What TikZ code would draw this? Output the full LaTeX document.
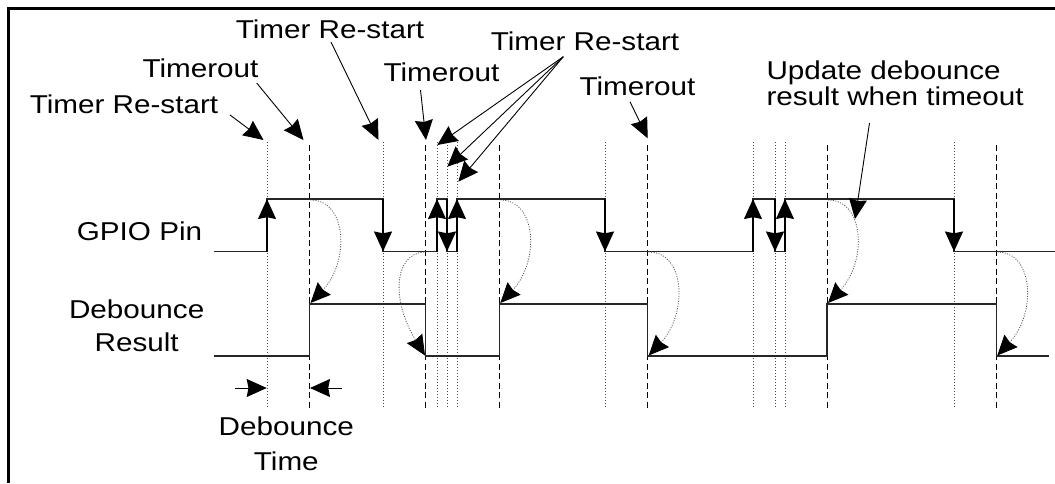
\documentclass[tikz,border=0pt]{standalone}
\usepackage{graphicx}
\usepackage{fontspec}
\setmainfont{Liberation Sans}
\usetikzlibrary{arrows.meta}
\newcommand\lbl[3]{\scalebox{1.15}[1]{\fontsize{25.8}{#1}\selectfont\begin{tabular}[t]{@{}#2@{}}#3\end{tabular}}}
\begin{document}
\begin{tikzpicture}[x=1pt,y=-1pt,
  wave/.style={line width=1.3pt, draw=black!85, line join=miter},
  guidedot/.style={line width=0.8pt, draw=black!70, dash pattern=on 0.8pt off 2.2pt},
  guidedash/.style={line width=0.9pt, draw=black, dash pattern=on 6pt off 3.5pt},
  head/.style={-{Stealth[length=20pt,width=18pt,inset=1.8pt,color=black]}},
  pointer/.style={head, line width=0.9pt},
  edgearr/.style={head, line width=1.3pt},
  curvearr/.style={head, line width=0.8pt, draw=black!70, dash pattern=on 1pt off 1.5pt},
  lab/.style={inner sep=0pt, outer sep=0pt}]
\useasboundingbox (0,0) rectangle (1055,483);
% frame
\draw[line width=2.7pt] (8.7,483) -- (8.7,8.7) -- (1055,8.7);

% guide lines: timer re-start (dotted) and timeout (dashed)
\foreach \x in {267,383,437,447,457,605,753,775,785,954}
  \draw[guidedot] (\x,142) -- (\x,408);
\foreach \x in {309.5,425.7,499.3,647.7,827,996.3}
  \draw[guidedash] (\x,145) -- (\x,409);

% GPIO waveform
\draw[wave] (214,251.5) -- (267,251.5) -- (267,199) -- (383,199) -- (383,251.5)
  -- (437,251.5) -- (437,199) -- (447,199) -- (447,251.5) -- (457,251.5) -- (457,199)
  -- (605,199) -- (605,251.5) -- (753,251.5) -- (753,199) -- (775,199) -- (775,251.5)
  -- (785,251.5) -- (785,199) -- (954,199) -- (954,251.5) -- (1055,251.5);
% edge arrows
\foreach \x in {267,437,457,753,785}
  \draw[edgearr] (\x,251.5) -- (\x,199);
\foreach \x in {383,447,605,775,954}
  \draw[edgearr] (\x,199) -- (\x,251.5);

% Debounce result waveform
\draw[wave] (214,356) -- (309.5,356) -- (309.5,304) -- (425.7,304) -- (425.7,356)
  -- (499.3,356) -- (499.3,304) -- (647.7,304) -- (647.7,356) -- (827,356)
  -- (827,304) -- (996.3,304) -- (996.3,356) -- (1049,356);

% update arrows (dotted curves)
\foreach \x in {309.5,499.3,827}
  \draw[curvearr] (\x+1,200) .. controls (\x+38,200) and (\x+40,262) .. (\x+1,303);
\foreach \x in {647.7,996.3}
  \draw[curvearr] (\x+1,252) .. controls (\x+38,252) and (\x+40,314) .. (\x+1,355.5);
\draw[curvearr] (424,252) .. controls (394,254) and (391,300) .. (425,355.5);

% labels
\node[lab, anchor=base] (trs1) at (124,113) {\lbl{30}{c}{Timer Re-start}};
\node[lab, anchor=base] (to1) at (200.5,77) {\lbl{30}{c}{Timerout}};
\node[lab, anchor=base] (trs2) at (330,38) {\lbl{30}{c}{Timer Re-start}};
\node[lab, anchor=base] (to2) at (441.5,81) {\lbl{30}{c}{Timerout}};
\node[lab, anchor=base] (trs3) at (585,50) {\lbl{30}{c}{Timer Re-start}};
\node[lab, anchor=base] (to3) at (637.5,95) {\lbl{30}{c}{Timerout}};
\node[lab, anchor=base west] (upd) at (766.5,79.5) {\lbl{25.7}{l}{Update debounce\\result when timeout}};
\node[lab, anchor=base] (gpio) at (139.5,240) {\lbl{30}{c}{GPIO Pin}};
\node[lab, anchor=base] (dres) at (136.7,318) {\lbl{33.5}{c}{Debounce\\Result}};
\node[lab, anchor=base] (dtime) at (286.3,435) {\lbl{35}{c}{Debounce\\Time}};

% pointer coordinates
\coordinate (p1s) at (230,115);   \coordinate (p1e) at (263.5,140);
\coordinate (p2s) at (256.7,83);  \coordinate (p2e) at (303.5,140);
\coordinate (p3s) at (331,42);    \coordinate (p3e) at (378.5,140);
\coordinate (p4s) at (420.5,90);  \coordinate (p4e) at (426,140);
\coordinate (p5s) at (563.3,56.7);
\coordinate (p5a) at (437.3,145); \coordinate (p5b) at (447.3,166.7); \coordinate (p5c) at (458.3,181.7);
\coordinate (p6s) at (630,101.7); \coordinate (p6e) at (647.7,138.3);
\coordinate (p7s) at (869.5,123); \coordinate (p7e) at (855,219);
\coordinate (dt1s) at (235,388);  \coordinate (dt1e) at (266.7,388);
\coordinate (dt2s) at (341.7,388);\coordinate (dt2e) at (310,388);

\draw[pointer] (p1s) -- (p1e);
\draw[pointer] (p2s) -- (p2e);
\draw[pointer] (p3s) -- (p3e);
\draw[pointer] (p4s) -- (p4e);
\draw[pointer] (p5s) -- (p5a);
\draw[pointer] (p5s) -- (p5b);
\draw[pointer] (p5s) -- (p5c);
\draw[pointer] (p6s) -- (p6e);
\draw[pointer] (p7s) -- (p7e);
\draw[pointer] (dt1s) -- (dt1e);
\draw[pointer] (dt2s) -- (dt2e);
\end{tikzpicture}
\end{document}
